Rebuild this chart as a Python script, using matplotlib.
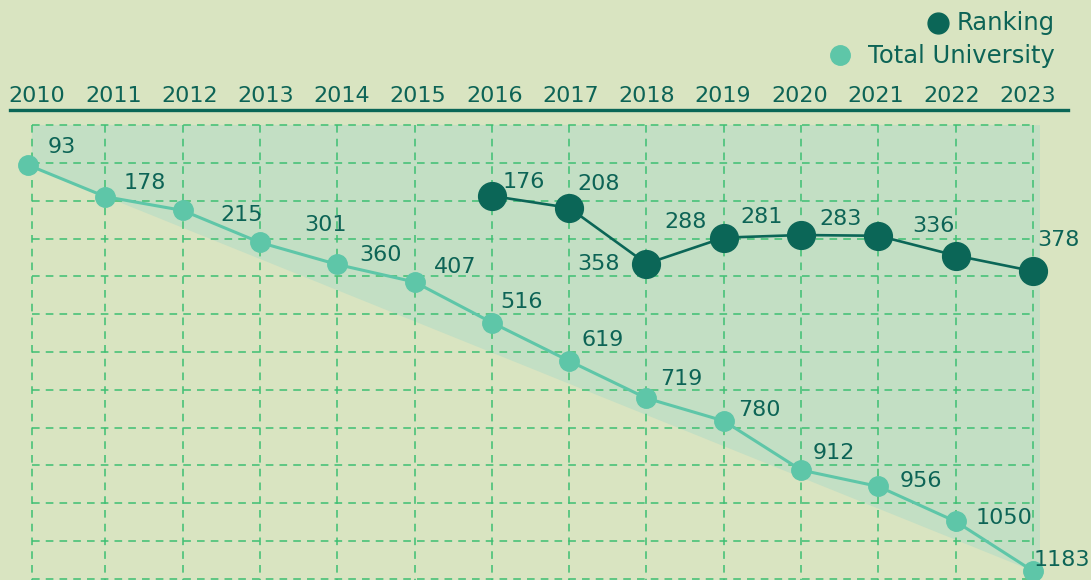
import matplotlib.pyplot as plt
import numpy as np

years = list(range(2010, 2024))
total_univ = [93, 178, 215, 301, 360, 407, 516, 619, 719, 780, 912, 956, 1050, 1183]
rank_years = list(range(2016, 2024))
ranking = [176, 208, 358, 288, 281, 283, 336, 378]

# label offsets in pixels (dx, dy), dy up
total_off = [(34, 18), (39, 14), (59, -5), (66, 17), (43, 9), (41, 15), (30, 21),
             (34, 21), (35, 19), (36, 11), (33, 17), (42, 5), (48, 3), (29, 11)]
rank_off = [(32, 14), (29, 24), (-48, 0), (-38, 16), (-40, 18), (-38, 17), (-22, 30), (25, 31)]

BG = "#d9e4c1"
SHADE = "#c3dfc4"
DARK = "#0b6657"
LIGHT = "#5ec6a8"
GRID = "#3dbf72"
TXT = "#0d6456"

W, H = 1091, 580
plt.rcParams["font.family"] = ["DejaVu Sans"]
fig = plt.figure(figsize=(W / 100, H / 100), dpi=100)
fig.patch.set_facecolor(BG)
ax = fig.add_axes([0, 0, 1, 1])
ax.set_facecolor(BG)
ax.axis("off")

px_yr = 1005 / 13
ax.set_xlim(2010 - 28 / px_yr, 2010 + (W - 28) / px_yr)
scale = 0.3725
ax.set_ylim(93 + (H - 165) / scale, 93 - 165 / scale)

# grid layout
gy = np.arange(-14, 1210, 101.5)
ytop, ybot = gy[0], 93 + (H - 165) / scale
x_right = years[-1] + 7 / px_yr

# shaded band above the first-to-last diagonal
poly_x = [years[0] + 0.05, x_right, x_right, years[-1], years[0] + 0.05]
poly_y = [ytop, ytop, ybot, total_univ[-1], total_univ[0] + 5]
ax.fill(poly_x, poly_y, color=SHADE, zorder=1, lw=0)

ax.hlines(gy, years[0] + 0.05, years[-1], colors=GRID, linestyles=(0, (5, 4)), lw=1.1, zorder=2)
gx = [years[0] + 0.05] + years[1:]
ax.vlines(gx, ytop, ybot, colors=GRID, linestyles=(0, (5, 4)), lw=1.1, zorder=2)

# lines
ax.plot(years, total_univ, color=LIGHT, lw=2.2, marker="o", ms=14, zorder=4)
ax.plot(rank_years, ranking, color=DARK, lw=1.9, marker="o", ms=20, zorder=5)

for x, v, (dx, dy) in zip(years, total_univ, total_off):
    ax.annotate(str(v), (x, v), xytext=(dx, dy), textcoords="offset pixels",
                ha="center", va="center", fontsize=16, color=TXT, zorder=6)
for x, v, (dx, dy) in zip(rank_years, ranking, rank_off):
    ax.annotate(str(v), (x, v), xytext=(dx, dy), textcoords="offset pixels",
                ha="center", va="center", fontsize=16, color=TXT, zorder=6)

# year header
label_x = np.linspace(37, 1028, len(years))
for lx, yr in zip(label_x, years):
    fig.text(lx / W, 1 - 96 / H, str(yr), ha="center", va="center", fontsize=16, color=TXT)
fig.add_artist(plt.Line2D([10 / W, 1068 / W], [1 - 110 / H, 1 - 110 / H], color=DARK, lw=2.4))

# legend
fig.add_artist(plt.Line2D([938 / W], [1 - 23 / H], marker="o", ms=15, color=DARK, lw=0))
fig.text(1055 / W, 1 - 23 / H, "Ranking", ha="right", va="center", fontsize=17.5, color=TXT)
fig.add_artist(plt.Line2D([840 / W], [1 - 55 / H], marker="o", ms=14, color=LIGHT, lw=0))
fig.text(1055 / W, 1 - 56 / H, "Total University", ha="right", va="center", fontsize=17.5, color=TXT)

fig.savefig("out.png", dpi=100, facecolor=BG)
